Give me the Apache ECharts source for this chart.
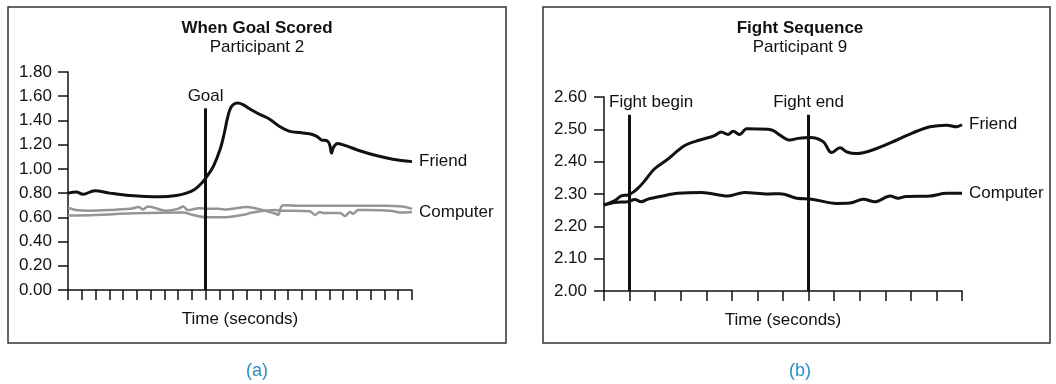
<!DOCTYPE html>
<html>
<head>
<meta charset="utf-8">
<script src="https://cdn.jsdelivr.net/npm/echarts@6/dist/echarts.min.js"></script>
<style>
  html, body { margin: 0; padding: 0; background: #fff; }
  #chart { width: 1056px; height: 384px; }
</style>
</head>
<body>
<div id="chart"></div>
<script>
// Panel (a): skin response when a goal is scored, participant 2
const goalTicks = 25;          // x axis tick count (time, unlabeled)
const goalAt = 10;             // time index of the goal
const goalLineTop = 1.50;
const goalYTicks = { min: 0, max: 1.8, step: 0.2 };
const friendA = [
  [0,0.80],[0.6,0.81],[1.09,0.79],[1.94,0.82],[3.03,0.80],[4.48,0.78],[6.66,0.77],
  [7.87,0.78],[8.6,0.80],[9.2,0.83],[9.69,0.88],[10.05,0.93],[10.56,1.02],[11.05,1.16],
  [11.35,1.29],[11.55,1.40],[11.77,1.49],[12.0,1.53],[12.35,1.545],[12.72,1.53],
  [13.44,1.48],[13.93,1.45],[14.66,1.41],[15.38,1.35],[16.11,1.31],[16.84,1.30],
  [17.56,1.29],[18.05,1.27],[18.41,1.24],[18.85,1.23],[19.02,1.20],[19.15,1.13],
  [19.3,1.18],[19.6,1.21],[20.23,1.19],[21.2,1.15],[22.4,1.11],[23.6,1.08],[25,1.06]
];
const computerA1 = [
  [0,0.68],[0.58,0.66],[1.6,0.655],[3.05,0.66],[4.5,0.67],[5.16,0.685],[5.45,0.665],
  [5.81,0.69],[7.12,0.655],[8.0,0.67],[8.36,0.69],[8.72,0.66],[9.52,0.675],[10.3,0.67],
  [10.97,0.67],[11.5,0.665],[12.2,0.675],[12.96,0.685],[13.6,0.675],[15.12,0.63],
  [15.26,0.62],[15.62,0.70],[17,0.695],[20,0.695],[23,0.695],[24.3,0.69],[25,0.67]
];
const computerA2 = [
  [0,0.615],[2,0.62],[4.72,0.633],[8.36,0.64],[9.08,0.62],[10.03,0.60],[11.26,0.60],
  [12.94,0.625],[13.23,0.636],[15.05,0.66],[15.5,0.655],[17.59,0.65],[17.95,0.62],
  [18.31,0.645],[18.53,0.635],[19.77,0.635],[20.13,0.61],[20.49,0.645],[20.71,0.63],
  [21.08,0.66],[21.66,0.66],[23.4,0.655],[24.13,0.64],[25,0.645]
];

// Panel (b): fight sequence, participant 9
const fightTicks = 14;
const fightBegin = 1;
const fightEnd = 8;
const fightLineTop = 2.545;
const fightYTicks = { min: 2.0, max: 2.6, step: 0.1 };
const friendB = [
  [0,2.266],[0.42,2.28],[0.68,2.294],[0.94,2.297],[1.13,2.305],[1.33,2.318],[1.54,2.336],
  [1.98,2.378],[2.45,2.405],[3.16,2.450],[3.75,2.467],[4.3,2.480],[4.59,2.492],
  [4.85,2.484],[5.05,2.494],[5.31,2.484],[5.58,2.502],[6.41,2.500],[6.62,2.496],
  [6.88,2.482],[7.27,2.467],[7.6,2.472],[8.06,2.475],[8.57,2.462],[8.9,2.428],
  [9.23,2.443],[9.5,2.430],[9.88,2.425],[10.5,2.436],[11.45,2.467],[12.1,2.490],
  [12.75,2.508],[13.4,2.513],[13.79,2.508],[14,2.514]
];
const computerB = [
  [0,2.266],[0.42,2.274],[0.94,2.276],[1.2,2.283],[1.46,2.276],[1.72,2.284],[2.24,2.293],
  [2.89,2.302],[3.81,2.305],[4.85,2.294],[5.5,2.305],[6.41,2.300],[6.88,2.301],
  [7.54,2.287],[8.12,2.284],[9.1,2.271],[9.62,2.272],[10.14,2.284],[10.6,2.276],
  [11.19,2.294],[11.5,2.287],[11.8,2.292],[12.75,2.294],[13.4,2.302],[14,2.302]
];

const FONT = '"Liberation Sans", Arial, Helvetica, sans-serif';
const FS = 17;
const INK = '#111';
const GRAY = '#959595';
const BLUE = '#2a8fc4';

function yAxis(gridIndex, t, margin) {
  return {
    type: 'value', gridIndex, min: t.min, max: t.max, interval: t.step,
    axisLine: { show: true, lineStyle: { color: INK, width: 1.5 } },
    axisTick: { show: true, length: 10, lineStyle: { color: INK, width: 1.5 } },
    axisLabel: { margin, fontFamily: FONT, fontSize: FS, color: INK,
                 formatter: v => v.toFixed(2) },
    splitLine: { show: false }
  };
}
function xAxis(gridIndex, count) {
  return {
    type: 'value', gridIndex, min: 0, max: count, interval: 1,
    axisLine: { show: true, onZero: false, lineStyle: { color: INK, width: 1.5 } },
    axisTick: { show: true, length: 10, lineStyle: { color: INK, width: 1.5 } },
    axisLabel: { show: false },
    splitLine: { show: false },
    name: 'Time (seconds)', nameLocation: 'middle', nameGap: 21,
    nameTextStyle: { fontFamily: FONT, fontSize: FS, color: INK }
  };
}
function eventLine(x, bottom, top, text) {
  return {
    symbol: 'none', silent: true, animation: false,
    lineStyle: { color: INK, width: 3, type: 'solid' },
    label: text ? { show: true, position: 'end', distance: 4, formatter: text,
                    fontFamily: FONT, fontSize: FS, color: INK } : { show: false },
    data: [[{ coord: [x, bottom] }, { coord: [x, top] }]]
  };
}
function line(name, data, xi, color, width, endText, markLine) {
  const s = {
    name, type: 'line', xAxisIndex: xi, yAxisIndex: xi, data,
    smooth: 0.35, showSymbol: false, symbol: 'none', animation: false,
    lineStyle: { color, width }, z: 3
  };
  if (endText) {
    s.endLabel = { show: true, formatter: endText, distance: 7,
                   fontFamily: FONT, fontSize: FS, color: INK };
    s.labelLayout = { hideOverlap: false };
  }
  if (markLine) s.markLine = markLine;
  return s;
}

const chart = echarts.init(document.getElementById('chart'), null, { renderer: 'canvas' });

const staticGraphics = [
  { type: 'rect', shape: { x: 8, y: 7, width: 498, height: 336 },
    style: { fill: 'none', stroke: '#333', lineWidth: 1.5 }, silent: true },
  { type: 'rect', shape: { x: 543, y: 7, width: 507, height: 336 },
    style: { fill: 'none', stroke: '#333', lineWidth: 1.5 }, silent: true },
  { type: 'text', x: 257, y: 28, style: { text: 'When Goal Scored', font: 'bold 17px ' + FONT,
    fill: INK, textAlign: 'center', textVerticalAlign: 'middle' } },
  { type: 'text', x: 257, y: 47, style: { text: 'Participant 2', font: '17px ' + FONT,
    fill: INK, textAlign: 'center', textVerticalAlign: 'middle' } },
  { type: 'text', x: 800, y: 28, style: { text: 'Fight Sequence', font: 'bold 17px ' + FONT,
    fill: INK, textAlign: 'center', textVerticalAlign: 'middle' } },
  { type: 'text', x: 800, y: 47, style: { text: 'Participant 9', font: '17px ' + FONT,
    fill: INK, textAlign: 'center', textVerticalAlign: 'middle' } },
  { type: 'text', x: 257, y: 371, style: { text: '(a)', font: '18px ' + FONT,
    fill: BLUE, textAlign: 'center', textVerticalAlign: 'middle' } },
  { type: 'text', x: 800, y: 371, style: { text: '(b)', font: '18px ' + FONT,
    fill: BLUE, textAlign: 'center', textVerticalAlign: 'middle' } }
];

chart.setOption({
  backgroundColor: '#fff',
  animation: false,
  grid: [
    { left: 68, right: 1056 - 412, top: 72, bottom: 384 - 290 },
    { left: 604, right: 1056 - 962, top: 97, bottom: 384 - 291 }
  ],
  xAxis: [xAxis(0, goalTicks), xAxis(1, fightTicks)],
  yAxis: [yAxis(0, goalYTicks, 16), yAxis(1, fightYTicks, 17)],
  graphic: staticGraphics,
  series: [
    line('Computer A1', computerA1, 0, GRAY, 2.5, null, null),
    line('Computer A2', computerA2, 0, GRAY, 2.5, 'Computer', null),
    line('Friend A', friendA, 0, INK, 3, 'Friend',
         eventLine(goalAt, goalYTicks.min, goalLineTop, 'Goal')),
    line('Computer B', computerB, 1, INK, 3, 'Computer', null),
    line('Friend B', friendB, 1, INK, 3, 'Friend',
         {
           symbol: 'none', silent: true, animation: false,
           lineStyle: { color: INK, width: 3, type: 'solid' },
           label: { show: false },
           data: [
             [{ coord: [fightBegin, fightYTicks.min] }, { coord: [fightBegin, fightLineTop] }],
             [{ coord: [fightEnd, fightYTicks.min] }, { coord: [fightEnd, fightLineTop],
               label: { show: true, position: 'end', distance: 4, formatter: 'Fight end',
                        fontFamily: FONT, fontSize: FS, color: INK } }]
           ]
         })
  ]
});

// "Fight begin" sits to the left of its marker, starting just right of the y axis
const beginTop = chart.convertToPixel({ gridIndex: 1 }, [fightBegin, fightLineTop]);
const axisLeft = chart.convertToPixel({ gridIndex: 1 }, [0, fightLineTop]);
chart.setOption({
  graphic: staticGraphics.concat([
    { type: 'text', x: axisLeft[0] + 5, y: beginTop[1] - 12,
      style: { text: 'Fight begin', font: FS + 'px ' + FONT, fill: INK,
               textAlign: 'left', textVerticalAlign: 'middle' } }
  ])
});
</script>
</body>
</html>
